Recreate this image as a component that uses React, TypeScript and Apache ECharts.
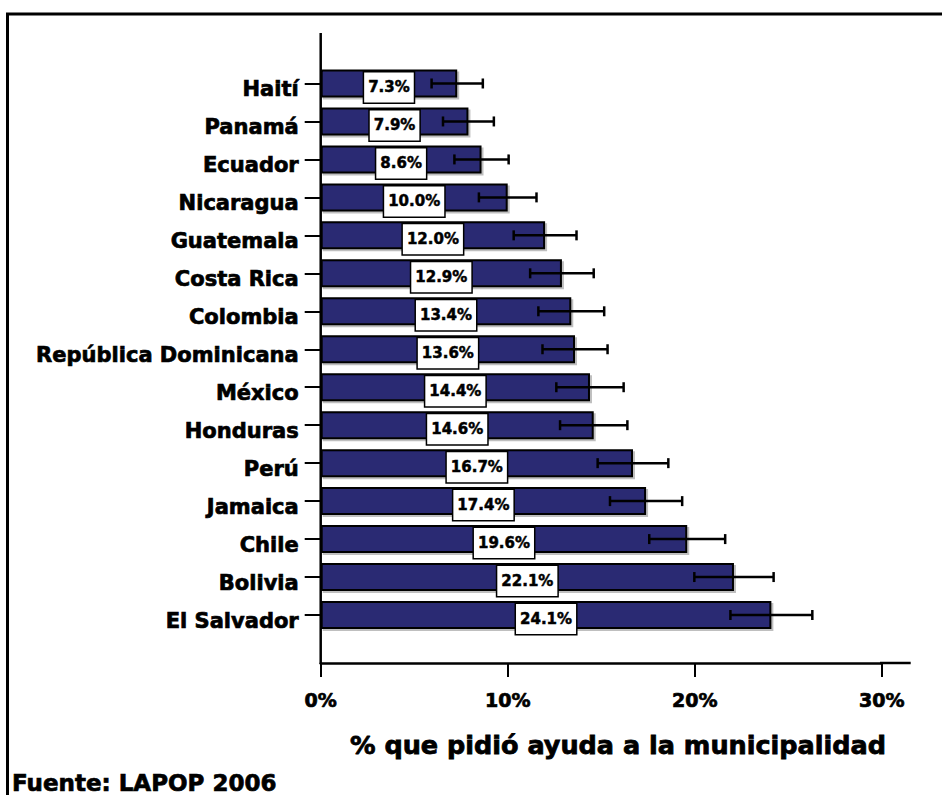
import React, { useEffect, useRef } from "react";
import * as echarts from "echarts";

const categories = [
  "Haití",
  "Panamá",
  "Ecuador",
  "Nicaragua",
  "Guatemala",
  "Costa Rica",
  "Colombia",
  "República Dominicana",
  "México",
  "Honduras",
  "Perú",
  "Jamaica",
  "Chile",
  "Bolivia",
  "El Salvador",
];
const values = [7.3, 7.9, 8.6, 10.0, 12.0, 12.9, 13.4, 13.6, 14.4, 14.6, 16.7, 17.4, 19.6, 22.1, 24.1];
const errors = [1.37, 1.36, 1.45, 1.54, 1.68, 1.7, 1.76, 1.74, 1.8, 1.8, 1.89, 1.93, 2.03, 2.12, 2.19];
const xTicks = [0, 10, 20, 30];
const axisTitle = "% que pidió ayuda a la municipalidad";
const sourceText = "Fuente: LAPOP 2006";

const FONT = "DejaVu Sans";
const HEAVY = { textBorderColor: "#000", textBorderWidth: 0.7 };

export default function App() {
  const ref = useRef<HTMLDivElement>(null);
  useEffect(() => {
    document.body.style.margin = "0";
    const chart = echarts.init(ref.current!, null, { renderer: "svg" });
    const errData = values.map((v, i) => [i, v - errors[i], v + errors[i]]);
    chart.setOption({
      animation: false,
      backgroundColor: "#fff",
      grid: { left: 320.7, right: 60.3, top: 64.5, height: 569.5, containLabel: false },
      xAxis: {
        type: "value",
        min: xTicks[0],
        max: xTicks[xTicks.length - 1],
        interval: 10,
        offset: 29,
        axisLine: { show: true, lineStyle: { color: "#000", width: 2.5 } },
        axisTick: { show: true, length: 14, lineStyle: { color: "#000", width: 2 } },
        splitLine: { show: false },
        axisLabel: {
          formatter: "{value}%",
          fontFamily: FONT,
          fontWeight: "bold",
          fontSize: 19,
          color: "#000",
          margin: 27,
          ...HEAVY,
        },
      },
      yAxis: {
        type: "category",
        data: categories,
        inverse: true,
        axisLine: { show: false },
        axisTick: { show: true, alignWithLabel: true, length: 16, lineStyle: { color: "#000", width: 2 } },
        axisLabel: {
          fontFamily: FONT,
          fontWeight: "bold",
          fontSize: 21,
          color: "#000",
          margin: 22,
          verticalAlign: "top",
          lineHeight: 12,
          ...HEAVY,
        },
      },
      series: [
        {
          type: "bar",
          data: values,
          barWidth: 28,
          itemStyle: {
            color: "#292A73",
            borderColor: "#000",
            borderWidth: 2,
            shadowColor: "rgba(0,0,0,0.25)",
            shadowOffsetX: 2,
            shadowOffsetY: 2,
            shadowBlur: 0,
          },
          label: {
            show: true,
            position: "inside",
            offset: [0, 4],
            formatter: (p: any) => Number(p.value).toFixed(1) + "%",
            fontFamily: FONT,
            fontWeight: "bold",
            fontSize: 15,
            color: "#000",
            backgroundColor: "#fff",
            borderColor: "#000",
            borderWidth: 1.5,
            padding: [8, 4, 7, 4],
            textBorderColor: "#000",
            textBorderWidth: 0.5,
          },
          z: 2,
        },
        {
          type: "custom",
          data: errData,
          encode: { x: [1, 2], y: 0 },
          z: 3,
          renderItem: (params: any, api: any) => {
            const idx = api.value(0);
            const lo = api.coord([api.value(1), idx]);
            const hi = api.coord([api.value(2), idx]);
            const y = lo[1];
            const h = 5;
            const style = { stroke: "#000", lineWidth: 2.5 };
            return {
              type: "group",
              children: [
                { type: "line", shape: { x1: lo[0], y1: y, x2: hi[0], y2: y }, style },
                { type: "line", shape: { x1: lo[0], y1: y - h, x2: lo[0], y2: y + h }, style },
                { type: "line", shape: { x1: hi[0], y1: y - h, x2: hi[0], y2: y + h }, style },
              ],
            };
          },
        },
      ],
      graphic: [
        {
          type: "polyline",
          shape: { points: [[7.5, 800], [7.5, 14], [950, 14]] },
          style: { stroke: "#000", lineWidth: 3, fill: "none" },
          silent: true,
        },
        {
          type: "line",
          shape: { x1: 320.7, y1: 33, x2: 320.7, y2: 664 },
          style: { stroke: "#000", lineWidth: 2.5 },
          silent: true,
        },
        {
          type: "line",
          shape: { x1: 880, y1: 663, x2: 910.7, y2: 663 },
          style: { stroke: "#000", lineWidth: 2.5 },
          silent: true,
        },
        {
          type: "text",
          x: 618,
          y: 745,
          style: {
            text: axisTitle,
            fontFamily: FONT,
            fontWeight: "bold",
            fontSize: 25.5,
            fill: "#000",
            stroke: "#000",
            lineWidth: 0.8,
            align: "center",
            verticalAlign: "middle",
          },
        },
        {
          type: "text",
          x: 12,
          y: 783,
          style: {
            text: sourceText,
            fontFamily: FONT,
            fontWeight: "bold",
            fontSize: 23,
            fill: "#000",
            stroke: "#000",
            lineWidth: 0.7,
            align: "left",
            verticalAlign: "middle",
          },
        },
      ],
    });
    return () => chart.dispose();
  }, []);
  return <div ref={ref} style={{ width: 942, height: 795 }} />;
}
